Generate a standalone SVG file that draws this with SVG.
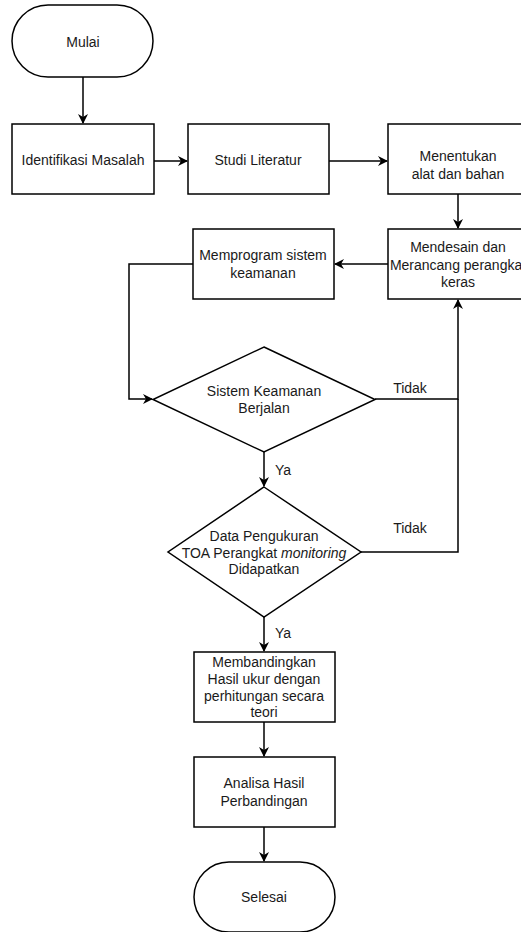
<svg xmlns="http://www.w3.org/2000/svg" width="521" height="932" viewBox="0 0 521 932">
<style>
.s{fill:#fff;stroke:#000;stroke-width:1.5}
.t{font-family:"Liberation Sans",Arial,sans-serif;font-size:14px;fill:#1a1a1a;text-anchor:middle}
.c{fill:none;stroke:#000;stroke-width:1.5}
</style>
<defs>
<marker id="a" viewBox="0 0 10 10" refX="9" refY="5" markerWidth="10" markerHeight="10" markerUnits="userSpaceOnUse" orient="auto">
<path d="M0,0 L10,5 L0,10 L3,5 Z" fill="#000"/>
</marker>
</defs>
<rect width="521" height="932" fill="#fff"/>
<g id="connectors">
<path class="c" d="M83,77 V123" marker-end="url(#a)"/>
<path class="c" d="M154,161 H187" marker-end="url(#a)"/>
<path class="c" d="M329,161 H387" marker-end="url(#a)"/>
<path class="c" d="M458,194 V228" marker-end="url(#a)"/>
<path class="c" d="M388,264 H335" marker-end="url(#a)"/>
<path class="c" d="M193,264 H129 V399 H152" marker-end="url(#a)"/>
<path class="c" d="M375,399 H458 V300" marker-end="url(#a)"/>
<path class="c" d="M361,552 H458 V399"/>
<path class="c" d="M264,452 V486" marker-end="url(#a)"/>
<path class="c" d="M264,617 V651" marker-end="url(#a)"/>
<path class="c" d="M264,722 V756" marker-end="url(#a)"/>
<path class="c" d="M264,827 V861" marker-end="url(#a)"/>
<text class="t" x="410" y="393">Tidak</text>
<text class="t" x="410" y="533">Tidak</text>
<text class="t" x="283" y="475">Ya</text>
<text class="t" x="283" y="638">Ya</text>
</g>
<g id="mulai">
<rect class="s" x="12" y="5" width="141" height="72" rx="36" ry="36"/>
<text class="t" x="83" y="47">Mulai</text>
</g>
<g id="identifikasi">
<rect class="s" x="12" y="124" width="142" height="70"/>
<text class="t" x="83" y="165">Identifikasi Masalah</text>
</g>
<g id="studi">
<rect class="s" x="188" y="124" width="141" height="70"/>
<text class="t" x="258" y="165">Studi Literatur</text>
</g>
<g id="menentukan">
<rect class="s" x="388" y="124" width="141" height="70"/>
<text class="t" x="458" y="161">Menentukan</text>
<text class="t" x="458" y="179">alat dan bahan</text>
</g>
<g id="mendesain">
<rect class="s" x="388" y="229" width="141" height="70"/>
<text class="t" x="458" y="252">Mendesain dan</text>
<text class="t" x="458" y="270">Merancang perangkat</text>
<text class="t" x="458" y="287">keras</text>
</g>
<g id="memprogram">
<rect class="s" x="193" y="229" width="141" height="70"/>
<text class="t" x="263" y="260">Memprogram sistem</text>
<text class="t" x="263" y="278">keamanan</text>
</g>
<g id="decision1">
<polygon class="s" points="264,347 375,399.5 264,452 153,399.5"/>
<text class="t" x="264" y="396">Sistem Keamanan</text>
<text class="t" x="264" y="413">Berjalan</text>
</g>
<g id="decision2">
<polygon class="s" points="264,487 361,552 264,617 168,552"/>
<text class="t" x="264" y="541">Data Pengukuran</text>
<text class="t" x="264" y="558">TOA Perangkat <tspan font-style="italic">monitoring</tspan></text>
<text class="t" x="264" y="574">Didapatkan</text>
</g>
<g id="membandingkan">
<rect class="s" x="194" y="652" width="141" height="70"/>
<text class="t" x="264" y="667">Membandingkan</text>
<text class="t" x="264" y="684">Hasil ukur dengan</text>
<text class="t" x="264" y="701">perhitungan secara</text>
<text class="t" x="264" y="717">teori</text>
</g>
<g id="analisa">
<rect class="s" x="194" y="757" width="141" height="70"/>
<text class="t" x="264" y="788">Analisa Hasil</text>
<text class="t" x="264" y="806">Perbandingan</text>
</g>
<g id="selesai">
<rect class="s" x="194" y="862" width="141" height="70" rx="35" ry="35"/>
<text class="t" x="264" y="902">Selesai</text>
</g>
</svg>
